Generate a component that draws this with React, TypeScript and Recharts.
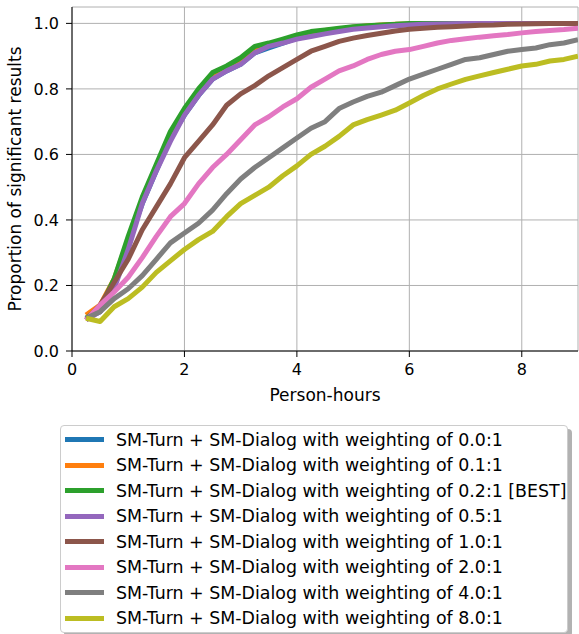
import { LineChart, Line, XAxis, YAxis, CartesianGrid, Legend, Label } from 'recharts';

const hours = [
  0.25, 0.5, 0.75, 1, 1.25, 1.5, 1.75, 2, 2.25, 2.5, 2.75, 3, 3.25, 3.5, 3.75, 4, 4.25, 4.5,
  4.75, 5, 5.25, 5.5, 5.75, 6, 6.25, 6.5, 6.75, 7, 7.25, 7.5, 7.75, 8, 8.25, 8.5, 8.75, 9,
];

const w00 = [
  0.1, 0.12, 0.21, 0.33, 0.45, 0.55, 0.65, 0.72, 0.78, 0.83, 0.855, 0.875, 0.91, 0.925, 0.94, 0.955, 0.965, 0.972,
  0.978, 0.985, 0.99, 0.993, 0.995, 0.997, 0.998, 0.999, 1, 1, 1, 1, 1, 1, 1, 1, 1, 1,
];
const w01 = [
  0.11, 0.14, 0.22, 0.34, 0.46, 0.56, 0.66, 0.73, 0.79, 0.84, 0.86, 0.885, 0.92, 0.935, 0.945, 0.96, 0.97, 0.978,
  0.983, 0.988, 0.992, 0.995, 0.997, 0.998, 0.999, 1, 1, 1, 1, 1, 1, 1, 1, 1, 1, 1,
];
const w02 = [
  0.1, 0.13, 0.22, 0.35, 0.47, 0.57, 0.67, 0.74, 0.8, 0.85, 0.87, 0.895, 0.93, 0.94, 0.952, 0.965, 0.975, 0.98,
  0.985, 0.99, 0.993, 0.995, 0.997, 1, 1, 1, 1, 1, 1, 1, 1, 1, 1, 1, 1, 1,
];
const w05 = [
  0.095, 0.12, 0.19, 0.31, 0.45, 0.55, 0.64, 0.72, 0.78, 0.83, 0.855, 0.875, 0.91, 0.93, 0.94, 0.952, 0.96, 0.968,
  0.975, 0.982, 0.986, 0.99, 0.993, 0.995, 0.997, 0.998, 0.999, 1, 1, 1, 1, 1, 1, 1, 1, 1,
];
const w10 = [
  0.095, 0.14, 0.21, 0.28, 0.37, 0.44, 0.51, 0.59, 0.64, 0.69, 0.75, 0.785, 0.81, 0.84, 0.865, 0.89, 0.915, 0.93,
  0.945, 0.955, 0.963, 0.97, 0.977, 0.982, 0.985, 0.988, 0.99, 0.992, 0.994, 0.995, 0.997, 0.998, 0.999, 1, 1, 1,
];
const w20 = [
  0.095, 0.14, 0.18, 0.225, 0.285, 0.35, 0.41, 0.45, 0.51, 0.56, 0.6, 0.645, 0.69, 0.715, 0.745, 0.77, 0.805, 0.83,
  0.855, 0.87, 0.89, 0.905, 0.915, 0.92, 0.93, 0.94, 0.948, 0.953, 0.958, 0.962, 0.966, 0.971, 0.975, 0.978, 0.981, 0.985,
];
const w40 = [
  0.1, 0.12, 0.16, 0.19, 0.23, 0.28, 0.33, 0.36, 0.39, 0.43, 0.48, 0.525, 0.56, 0.59, 0.62, 0.65, 0.68, 0.7,
  0.74, 0.76, 0.777, 0.79, 0.81, 0.83, 0.845, 0.86, 0.875, 0.89, 0.895, 0.905, 0.915, 0.92, 0.925, 0.935, 0.94, 0.95,
];
const w80 = [
  0.1, 0.09, 0.135, 0.16, 0.195, 0.24, 0.275, 0.31, 0.34, 0.365, 0.41, 0.45, 0.475, 0.5, 0.535, 0.565, 0.6, 0.625,
  0.655, 0.69, 0.706, 0.72, 0.735, 0.757, 0.78, 0.8, 0.815, 0.829, 0.84, 0.85, 0.86, 0.87, 0.875, 0.885, 0.89, 0.9,
];

const seriesKeys = ['w00', 'w01', 'w02', 'w05', 'w10', 'w20', 'w40', 'w80'];
const seriesValues = [w00, w01, w02, w05, w10, w20, w40, w80];
const seriesNames = [
  'SM-Turn + SM-Dialog with weighting of 0.0:1',
  'SM-Turn + SM-Dialog with weighting of 0.1:1',
  'SM-Turn + SM-Dialog with weighting of 0.2:1 [BEST]',
  'SM-Turn + SM-Dialog with weighting of 0.5:1',
  'SM-Turn + SM-Dialog with weighting of 1.0:1',
  'SM-Turn + SM-Dialog with weighting of 2.0:1',
  'SM-Turn + SM-Dialog with weighting of 4.0:1',
  'SM-Turn + SM-Dialog with weighting of 8.0:1',
];
const seriesColors = ['#1f77b4', '#ff7f0e', '#2ca02c', '#9467bd', '#8c564b', '#e377c2', '#7f7f7f', '#bcbd22'];

const xTicks = [0, 2, 4, 6, 8];
const yTicks = [0, 0.2, 0.4, 0.6, 0.8, 1.0];

const data = hours.map((h, i) => {
  const row: Record<string, number> = { hours: h };
  seriesKeys.forEach((k, j) => {
    row[k] = seriesValues[j][i];
  });
  return row;
});

const FONT = '"DejaVu Sans", sans-serif';

const YTitle = (props: any) => {
  const { viewBox } = props;
  const cx = 15;
  const cy = viewBox.y + viewBox.height / 2;
  return (
    <text
      x={cx}
      y={cy}
      transform={`rotate(-90 ${cx} ${cy})`}
      textAnchor="middle"
      dominantBaseline="central"
      fontSize={17}
      fill="#000"
    >
      Proportion of significant results
    </text>
  );
};

const renderLegend = (props: any) => {
  const items = props.payload && props.payload.length ? props.payload : seriesNames.map((n, i) => ({ value: n, color: seriesColors[i] }));
  return (
    <div
      style={{
        border: '1px solid #cccccc',
        borderRadius: 4,
        background: '#fff',
        boxShadow: '4px 4px 0 rgba(0,0,0,0.3)',
        padding: '1px 0',
        width: 506,
        fontFamily: FONT,
      }}
    >
      {items.map((entry: any) => (
        <div key={entry.value} style={{ display: 'flex', alignItems: 'center', height: 25.5 }}>
          <span
            style={{
              display: 'inline-block',
              width: 39,
              height: 5,
              background: entry.color,
              marginLeft: 4,
              marginRight: 12,
            }}
          />
          <span style={{ fontSize: 17.4, color: '#000', whiteSpace: 'nowrap' }}>{entry.value}</span>
        </div>
      ))}
    </div>
  );
};

export default function App() {
  return (
    <div style={{ position: 'absolute', left: 0, top: 0, fontFamily: FONT }}>
      <LineChart width={579} height={634} data={data} margin={{ top: 7, right: 1, bottom: 233, left: 0 }}>
        <CartesianGrid stroke="#b0b0b0" strokeWidth={1} />
        <XAxis
          dataKey="hours"
          type="number"
          domain={[0, 9]}
          ticks={xTicks}
          allowDataOverflow
          height={50}
          tickSize={6}
          tickMargin={7}
          axisLine={{ stroke: '#000' }}
          tickLine={{ stroke: '#000' }}
          tick={{ fill: '#000', fontSize: 16 }}
          label={{ value: 'Person-hours', position: 'insideBottom', offset: 0, fill: '#000', fontSize: 17 }}
        />
        <XAxis
          xAxisId="top"
          orientation="top"
          type="number"
          domain={[0, 9]}
          height={0}
          tick={false}
          tickLine={false}
          axisLine={{ stroke: '#000' }}
        />
        <YAxis
          type="number"
          domain={[0, 1.05]}
          ticks={yTicks}
          allowDataOverflow
          width={72}
          tickSize={6}
          tickMargin={7}
          axisLine={{ stroke: '#000' }}
          tickLine={{ stroke: '#000' }}
          tick={{ fill: '#000', fontSize: 16 }}
          tickFormatter={(v: number) => v.toFixed(1)}
        >
          <Label content={YTitle} />
        </YAxis>
        <YAxis
          yAxisId="right"
          orientation="right"
          type="number"
          domain={[0, 1.05]}
          width={0}
          tick={false}
          tickLine={false}
          axisLine={{ stroke: '#000' }}
        />
        {seriesKeys.map((k, i) => (
          <Line
            key={k}
            type="linear"
            dataKey={k}
            name={seriesNames[i]}
            stroke={seriesColors[i]}
            strokeWidth={5}
            strokeLinejoin="round"
            dot={false}
            activeDot={false}
            isAnimationActive={false}
          />
        ))}
        <Legend
          layout="vertical"
          verticalAlign="middle"
          align="center"
          content={renderLegend}
          wrapperStyle={{ left: 60, top: 425, width: 508 }}
        />
      </LineChart>
    </div>
  );
}
